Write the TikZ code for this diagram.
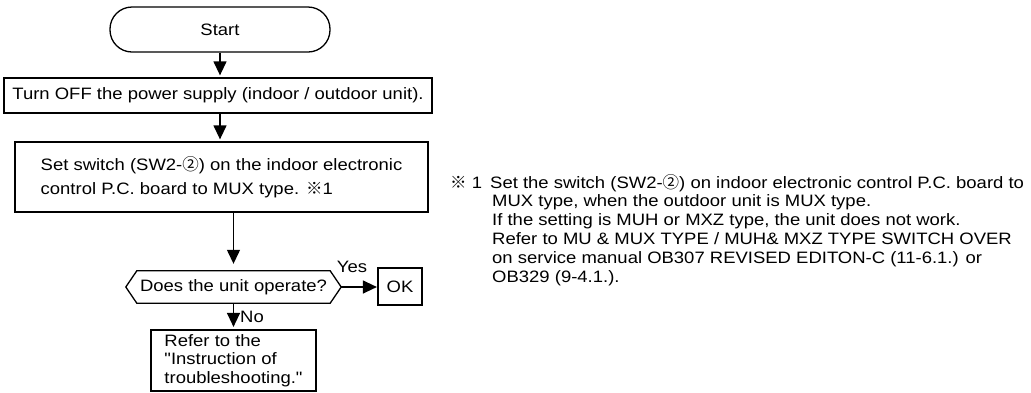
\documentclass[tikz,border=0pt]{standalone}
\usepackage{fontspec}
\newfontfamily\lib[FakeStretch=1.12]{Liberation Sans}
\newfontfamily\cjk{Noto Sans CJK JP}
\usetikzlibrary{arrows.meta,calc}
\tikzset{
  base/.style={font=\lib\fontsize{16.5}{24}\selectfont, inner sep=0pt},
  procbox/.style={base, draw, line width=1.3pt},
  termbox/.style={procbox, rounded corners=22pt},
  heavybox/.style={base, draw, line width=2.2pt},
  arr/.style={-{Triangle[width=13pt,length=14pt]}, line width=1.3pt},
}
\begin{document}
\begin{tikzpicture}[x=1pt,y=-1pt]
\useasboundingbox (0,0) rectangle (1031,392);
\node[termbox, minimum width=220pt, minimum height=45pt] (start) at (220,29.5) {Start};
\node[procbox, minimum width=428pt, minimum height=35pt] (off) at (218,95.5) {Turn OFF the power supply (indoor / outdoor unit).};
\node[procbox, minimum width=413pt, minimum height=70pt, align=left] (sw) at (221.5,177) {Set switch (SW2-{\cjk ②}) on the indoor electronic\\control P.C. board to MUX type. {\cjk ※}1};
\node[base, minimum width=193pt, minimum height=32pt] (q) at (233.5,287) {Does the unit operate?};
\draw[line width=1.3pt] (q.north west) -- (q.north east) -- ($(q.east)+(11,0)$) coordinate (qr) -- (q.south east) -- (q.south west) -- ($(q.west)+(-11,0)$) -- cycle;
\node[heavybox, minimum width=44pt, minimum height=37pt] (ok) at (400,286.5) {OK};
\node[base] (yes) at (352,267) {Yes};
\node[heavybox, minimum width=165pt, minimum height=61pt, align=left, font=\lib\fontsize{16.5}{18.3}\selectfont] (ref) at (233.5,360.5) {Refer to the\\"Instruction of\\troubleshooting."};
\node[base] (no) at (252,317) {No};
\node[base, anchor=north west, align=left, font=\lib\fontsize{16.5}{18.8}\selectfont] (note) at (450,174) {\makebox[40pt][l]{{\cjk ※} 1}Set the switch (SW2-{\cjk ②}) on indoor electronic control P.C. board to\\
\hspace*{42pt}MUX type, when the outdoor unit is MUX type.\\
\hspace*{42pt}If the setting is MUH or MXZ type, the unit does not work.\\
\hspace*{42pt}Refer to MU \& MUX TYPE / MUH\& MXZ TYPE SWITCH OVER\\
\hspace*{42pt}on service manual OB307 REVISED EDITON-C (11-6.1.) or\\
\hspace*{42pt}OB329 (9-4.1.).};
\draw[arr, shorten >=2pt] (start.south) -- (start.south |- off.north);
\draw[arr, shorten >=2pt] (start.south |- off.south) -- (start.south |- sw.north);
\draw[arr, shorten >=7pt] (q.north |- sw.south) -- (q.north);
\draw[arr] (qr) -- (qr -| ok.west);
\draw[arr, shorten >=2pt] (q.south) -- (q.south |- ref.north);
\end{tikzpicture}
\end{document}
